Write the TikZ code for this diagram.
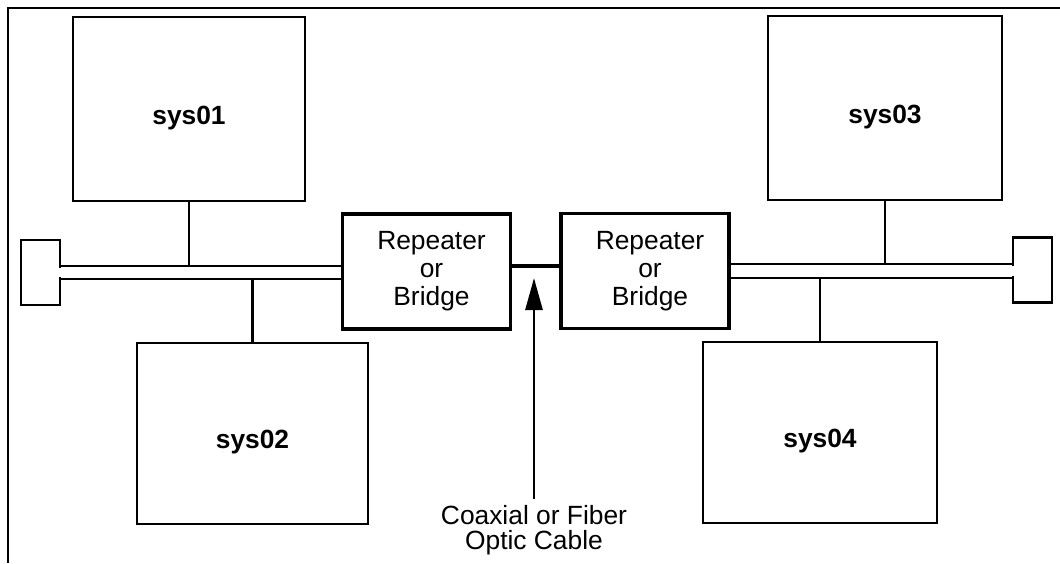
\documentclass[tikz,border=0pt]{standalone}
\usepackage{fontspec}
\setmainfont{Liberation Sans}
\usetikzlibrary{arrows.meta, positioning, calc}

\begin{document}
\begin{tikzpicture}[
  x=0.2mm, y=-0.2mm,
  every node/.style={font=\fontsize{15}{14.5}\selectfont},
  sysbox/.style={draw, line width=1.5pt, inner sep=0pt, align=center,
                 font=\fontsize{15}{15}\selectfont\bfseries,
                 text height=6mm, text depth=0pt},
  repbox/.style={draw, line width=2.2pt, inner sep=0pt, align=center,
                 font=\fontsize{15}{16}\selectfont,
                 minimum width=33.6mm, minimum height=23mm},
  capbox/.style={draw, line width=1.3pt, inner sep=0pt,
                 minimum width=7.8mm, minimum height=13mm},
  bus/.style={line width=1.3pt},
  gap/.style={draw=white, line width=2pt},
  drop/.style={line width=1.2pt},
  link/.style={line width=2pt},
  arr/.style={-{Triangle[length=6.4mm, width=3.4mm]}, line width=1.6pt}
]
  \useasboundingbox (0,0) rectangle (1060,563);

  %% frame (top and left only)
  \draw[line width=1.5pt] (1060,8) -- (8,8) -- (8,563);

  %% systems
  \node[sysbox, minimum width=46.4mm, minimum height=36.8mm] (sys01) at (189,109)   {sys01};
  \node[sysbox, minimum width=46.2mm, minimum height=36.2mm] (sys02) at (252.5,433.5) {sys02};
  \node[sysbox, minimum width=46.8mm, minimum height=36.8mm] (sys03) at (885,108)   {sys03};
  \node[sysbox, minimum width=46.8mm, minimum height=36.2mm] (sys04) at (820,432.5) {sys04};

  %% repeaters
  \node[repbox] (rep1) at (426.5,271.5) {\hspace*{2mm}Repeater\\\hspace*{2mm}or\\\hspace*{2mm}Bridge};
  \node[repbox] (rep2) at (645,271)   {\hspace*{2mm}Repeater\\\hspace*{2mm}or\\\hspace*{2mm}Bridge};

  %% terminators
  \node[capbox] (capL) at (40.5,272.5) {};
  \node[capbox] (capR) at (1032.5,270) {};

  %% bus levels
  \coordinate (lTop) at (0,266);
  \coordinate (lBot) at (0,279);
  \coordinate (rTop) at (0,264);
  \coordinate (rBot) at (0,278);

  %% open the terminators towards the bus
  \draw[gap] ($(capL.east |- lTop)+(0,2)$) -- ($(capL.east |- lBot)+(0,-2)$);
  \draw[gap] ($(capR.west |- rTop)+(0,2)$) -- ($(capR.west |- rBot)+(0,-2)$);

  %% left segment
  \draw[bus] (capL.east |- lTop) -- (rep1.west |- lTop);
  \draw[bus] (capL.east |- lBot) -- (rep1.west |- lBot);
  \draw[drop] (sys01.south) -- (sys01.south |- lTop);
  \draw[drop] (sys02.north) -- (sys02.north |- lBot);

  %% right segment
  \draw[bus] (rep2.east |- rTop) -- (capR.west |- rTop);
  \draw[bus] (rep2.east |- rBot) -- (capR.west |- rBot);
  \draw[drop] (sys03.south) -- (sys03.south |- rTop);
  \draw[drop] (sys04.north) -- (sys04.north |- rBot);

  %% link between repeaters
  \draw[link] (rep1.east |- lTop) -- (rep2.west |- lTop);
  \coordinate (tip) at (534,278);

  %% cable label
  \node[align=center] (cable) at (534,530) {Coaxial or Fiber\\Optic Cable};
  \draw[arr] (cable.north) -- (tip);
\end{tikzpicture}
\end{document}
